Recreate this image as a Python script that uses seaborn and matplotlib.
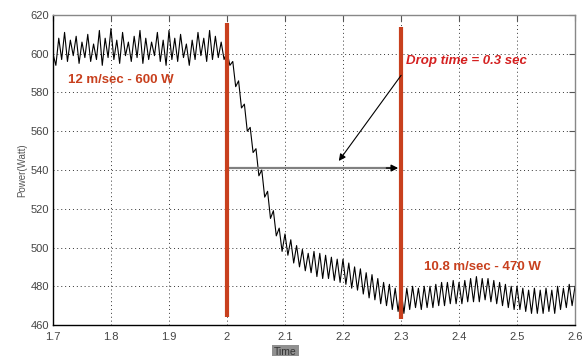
"""
Wind turbine power drop after wind speed step (12 -> 10.8 m/sec)
"""

import numpy as np
import pandas as pd
import matplotlib
matplotlib.use("Agg")
import matplotlib.pyplot as plt
import seaborn as sns

# sampled power (Watt), one value every 0.005 sec from 1.7 to 2.6 sec
power = [
    600, 594, 608, 597, 611, 596, 607, 599, 609, 595,
    606, 598, 610, 596, 605, 597, 612, 594, 608, 598,
    613, 597, 607, 595, 611, 599, 606, 596, 609, 598,
    612, 595, 608, 597, 606, 599, 611, 596, 607, 594,
    612, 597, 608, 596, 610, 598, 605, 594, 607, 597,
    611, 599, 608, 596, 612, 597, 609, 598, 606, 597,
    601, 594, 596, 583, 586, 572, 574, 560, 562, 549,
    551, 537, 540, 526, 529, 515, 519, 506, 510, 498,
    507, 496, 504, 492, 501, 490, 499, 488, 497, 487,
    498, 485, 497, 484, 496, 484, 495, 483, 494, 482,
    494, 481, 492, 479, 490, 478, 489, 476, 487, 474,
    486, 473, 484, 471, 482, 470, 481, 468, 479, 467,
    479, 466, 479, 468, 480, 469, 479, 468, 480, 469,
    480, 469, 481, 470, 482, 470, 482, 471, 483, 471,
    482, 471, 483, 472, 484, 472, 485, 472, 484, 473,
    484, 472, 483, 471, 482, 470, 481, 469, 480, 468,
    480, 468, 479, 467, 478, 466, 479, 466, 478, 466,
    479, 467, 478, 466, 480, 468, 479, 469, 481, 470,
    480,
]
t_start, t_end = 1.7, 2.6
time = np.linspace(t_start, t_end, len(power))

# speed change and settling instants (sec)
step_times = [2.0, 2.3]
step_span = [(464, 616), (463, 614)]
drop_level = 541
xticks = [1.7, 1.8, 1.9, 2.0, 2.1, 2.2, 2.3, 2.4, 2.5, 2.6]
xticklabels = ["1.7", "1.8", "1.9", "2", "2.1", "2.2", "2.3", "2.4", "2.5", "2.6"]
yticks = [460, 480, 500, 520, 540, 560, 580, 600, 620]

df = pd.DataFrame({"Time": time, "Power": power})

sns.set_style("white")
plt.rcParams["font.family"] = ["Liberation Sans", "DejaVu Sans"]

fig = plt.figure(figsize=(5.82, 3.56), dpi=100)
ax = fig.add_axes([0.091, 0.087, 0.897, 0.871])

sns.lineplot(data=df, x="Time", y="Power", color="black", linewidth=0.8, ax=ax)

red = "#c8401e"
for xs, (y0, y1) in zip(step_times, step_span):
    ax.plot([xs, xs], [y0, y1], color=red, linewidth=3.0, solid_capstyle="butt", zorder=4)

# horizontal drop-time arrow
ax.plot([step_times[0], step_times[1] - 0.01], [drop_level, drop_level], color="#808080", linewidth=1.6, zorder=3)
ax.annotate("", xy=(step_times[1], drop_level), xytext=(step_times[1] - 0.03, drop_level),
            arrowprops=dict(arrowstyle="-|>", color="black", lw=1.0, mutation_scale=10), zorder=5)

ax.annotate("", xy=(2.19, 543.5), xytext=(2.303, 590),
            arrowprops=dict(arrowstyle="-|>", color="black", lw=0.8, mutation_scale=10), zorder=5)

ax.text(2.308, 596, "Drop time = 0.3 sec", color="#d42020", fontsize=9.5, fontweight="bold",
        fontstyle="italic", va="center", ha="left")
ax.text(1.726, 586.5, "12 m/sec - 600 W", color=red, fontsize=9.5, fontweight="bold", va="center", ha="left")
ax.text(2.34, 490, "10.8 m/sec - 470 W", color=red, fontsize=9.5, fontweight="bold", va="center", ha="left")

ax.set_xlim(t_start, t_end)
ax.set_ylim(460, 620)
ax.set_xticks(xticks)
ax.set_xticklabels(xticklabels)
ax.set_yticks(yticks)
ax.grid(True, linestyle=(0, (1, 3)), color="#333333", linewidth=0.7)
ax.tick_params(direction="in", length=4, top=True, right=True, labelsize=8, labelcolor="#444444",
               color="#555555")
ax.tick_params(axis="x", pad=5)
ax.tick_params(axis="y", pad=3)
for side in ["left", "bottom"]:
    ax.spines[side].set_color("black")
for side in ["top", "right"]:
    ax.spines[side].set_color("#888888")
for s in ax.spines.values():
    s.set_linewidth(1.0)

ax.set_ylabel("Power(Watt)", fontsize=7, color="#555555", labelpad=2)
ax.set_xlabel("Time", fontsize=7.5, color="#333333", labelpad=2,
              bbox=dict(facecolor="#909090", edgecolor="none", pad=1.5))
ax.xaxis.set_label_coords(0.445, -0.07)

fig.savefig("out.png", dpi=100)
